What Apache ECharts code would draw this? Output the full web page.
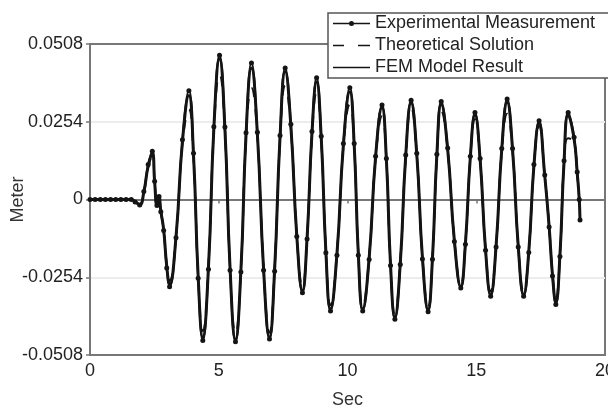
<!DOCTYPE html>
<html>
<head>
<meta charset="utf-8">
<script src="https://cdn.jsdelivr.net/npm/echarts/dist/echarts.min.js"></script>
<style>
  html, body { margin: 0; padding: 0; background: #fff; }
  #chart { width: 608px; height: 409px; }
</style>
</head>
<body>
<div id="chart"></div>
<script>
// time in seconds, shared by the three series
const timeSec = [
  0, 0.2, 0.4, 0.6, 0.8, 1.0, 1.2, 1.4, 1.6, 1.75, 1.93, 2.09, 2.26, 2.42,
  2.51, 2.60, 2.68, 2.75, 2.86, 2.98, 3.09, 3.34, 3.59, 3.84, 4.02, 4.20, 4.38,
  4.60, 4.81, 5.03, 5.24, 5.44, 5.65, 5.86, 6.06, 6.27, 6.50, 6.74, 6.97,
  7.17, 7.38, 7.58, 7.80, 8.03, 8.25, 8.43, 8.62, 8.80, 8.98, 9.16, 9.34,
  9.59, 9.84, 10.09, 10.26, 10.42, 10.59, 10.84, 11.09, 11.34, 11.51, 11.67, 11.84,
  12.05, 12.26, 12.47, 12.69, 12.91, 13.13, 13.30, 13.47, 13.64, 13.89, 14.15, 14.40,
  14.58, 14.77, 14.95, 15.15, 15.36, 15.56, 15.77, 15.99, 16.20, 16.41, 16.63, 16.84,
  17.04, 17.24, 17.44, 17.66, 17.83, 17.96, 18.09, 18.25, 18.41, 18.57,
  18.80, 18.92, 19.00, 19.03
];

const experimental = [
  0, 0, 0, 0, 0, 0, 0, 0, 0, -0.0008, -0.0018, 0.0026, 0.0114, 0.0158,
  0.006, -0.002, 0.001, -0.004, -0.0101, -0.0224, -0.0285, -0.0125, 0.0195, 0.0355, 0.0151, -0.0257, -0.0461,
  -0.0228, 0.0238, 0.0471, 0.0237, -0.0231, -0.0465, -0.0237, 0.0218, 0.0446, 0.0220, -0.0231, -0.0456,
  -0.0234, 0.0209, 0.0430, 0.0246, -0.0121, -0.0305, -0.0129, 0.0222, 0.0398, 0.0207, -0.0174, -0.0364,
  -0.0182, 0.0183, 0.0365, 0.0183, -0.0182, -0.0364, -0.0196, 0.0141, 0.0309, 0.0134, -0.0216, -0.0391,
  -0.0212, 0.0145, 0.0324, 0.0151, -0.0194, -0.0367, -0.0195, 0.0148, 0.0320, 0.0168, -0.0137, -0.0289,
  -0.0146, 0.0141, 0.0284, 0.0134, -0.0166, -0.0316, -0.0155, 0.0167, 0.0328, 0.0167, -0.0155, -0.0316,
  -0.0173, 0.0114, 0.0257, 0.008, -0.009, -0.025, -0.0343, -0.0186, 0.0127, 0.0284,
  0.0203, 0.009, 0.0, -0.0067
];

const theoretical = [
  0, 0, 0, 0, 0, 0, 0, 0, 0, -0.0006, -0.0015, 0.0022, 0.0105, 0.0142,
  0.0055, -0.0018, 0.0008, -0.0035, -0.0095, -0.0210, -0.0265, -0.0118, 0.0180, 0.0295, 0.0135, -0.0245, -0.0430,
  -0.0215, 0.0222, 0.0410, 0.0220, -0.0218, -0.0440, -0.0225, 0.0200, 0.0365, 0.0205, -0.0220, -0.0435,
  -0.0222, 0.0195, 0.0372, 0.0230, -0.0115, -0.0285, -0.0122, 0.0205, 0.0350, 0.0195, -0.0165, -0.0345,
  -0.0172, 0.0170, 0.0312, 0.0172, -0.0172, -0.0348, -0.0185, 0.0132, 0.0272, 0.0125, -0.0205, -0.0372,
  -0.0200, 0.0135, 0.0300, 0.0142, -0.0185, -0.0350, -0.0185, 0.0140, 0.0290, 0.0158, -0.0130, -0.0275,
  -0.0138, 0.0132, 0.0262, 0.0126, -0.0158, -0.0300, -0.0147, 0.0155, 0.0280, 0.0155, -0.0148, -0.0300,
  -0.0165, 0.0106, 0.0240, 0.0074, -0.0085, -0.0238, -0.0320, -0.0176, 0.0118, 0.0200,
  0.0185, 0.0082, 0.0, -0.0060
];

const femModel = [
  0, 0, 0, 0, 0, 0, 0, 0, 0, -0.0007, -0.0017, 0.0024, 0.0110, 0.0150,
  0.0058, -0.0019, 0.0009, -0.0038, -0.0098, -0.0218, -0.0278, -0.0122, 0.0190, 0.0340, 0.0145, -0.0250, -0.0450,
  -0.0222, 0.0232, 0.0460, 0.0230, -0.0226, -0.0458, -0.0232, 0.0212, 0.0430, 0.0214, -0.0226, -0.0450,
  -0.0229, 0.0204, 0.0418, 0.0240, -0.0118, -0.0298, -0.0126, 0.0216, 0.0385, 0.0202, -0.0170, -0.0358,
  -0.0178, 0.0178, 0.0352, 0.0179, -0.0178, -0.0358, -0.0192, 0.0138, 0.0300, 0.0130, -0.0212, -0.0384,
  -0.0208, 0.0141, 0.0315, 0.0148, -0.0190, -0.0360, -0.0191, 0.0145, 0.0310, 0.0164, -0.0134, -0.0284,
  -0.0143, 0.0138, 0.0276, 0.0131, -0.0163, -0.0310, -0.0152, 0.0163, 0.0318, 0.0163, -0.0152, -0.0310,
  -0.0170, 0.0111, 0.0250, 0.0078, -0.0088, -0.0246, -0.0336, -0.0182, 0.0124, 0.0275,
  0.0198, 0.0088, 0.0, -0.0065
];

const seriesNames = ['Experimental Measurement', 'Theoretical Solution', 'FEM Model Result'];
const yTicks = [-0.0508, -0.0254, 0, 0.0254, 0.0508];
const xTicks = [0, 5, 10, 15, 20];

const pairs = vals => timeSec.map((t, i) => [t, vals[i]]);

const font = 'Liberation Sans, Arial, sans-serif';
const ink = '#141414';

// legend icons drawn as paths (bounds kept at 37 x 5 so they are not stretched)
const iconExp = 'path://M0,1.8h37v1.4h-37z M18.5,0a2.5,2.5 0 1,1 0,5a2.5,2.5 0 1,1 0,-5z';
const iconTheo = 'path://M0,0h0.01v0.01h-0.01z M0,1.8h11v1.4h-11z M25,1.8h12v1.4h-12z M36.99,4.99h0.01v0.01h-0.01z';
const iconFem = 'path://M0,0h0.01v0.01h-0.01z M0,1.8h37v1.4h-37z M36.99,4.99h0.01v0.01h-0.01z';

const myChart = echarts.init(document.getElementById('chart'), null, { renderer: 'canvas' });

const option = {
  animation: false,
  backgroundColor: '#fff',
  grid: {
    left: 90, right: 3, top: 44, bottom: 54,
    containLabel: false, outerBoundsMode: 'none',
    show: true, borderColor: '#777', borderWidth: 2, backgroundColor: 'transparent'
  },
  legend: {
    left: 328, top: 13,
    orient: 'vertical',
    selectedMode: false,
    itemWidth: 37, itemHeight: 5, itemGap: 1,
    padding: [0, 60, 0, 5],
    borderColor: '#555', borderWidth: 1.5, backgroundColor: '#fff',
    textStyle: { fontFamily: font, fontSize: 18, color: '#222', lineHeight: 21 },
    data: [
      { name: seriesNames[0], icon: iconExp, itemStyle: { color: ink } },
      { name: seriesNames[1], icon: iconTheo, itemStyle: { color: ink } },
      { name: seriesNames[2], icon: iconFem, itemStyle: { color: ink } }
    ]
  },
  xAxis: {
    type: 'value',
    min: xTicks[0], max: xTicks[xTicks.length - 1], interval: 5,
    name: 'Sec', nameLocation: 'middle', nameGap: 36, nameMoveOverlap: false,
    nameTextStyle: { fontFamily: font, fontSize: 18, color: '#333' },
    axisLine: { show: true, lineStyle: { color: '#777', width: 2 } },
    axisTick: { show: true, length: 4, lineStyle: { color: '#777', width: 1.5 } },
    axisLabel: { margin: 7, fontFamily: font, fontSize: 18, color: '#222' },
    splitLine: { show: false }
  },
  yAxis: {
    type: 'value',
    min: yTicks[0], max: yTicks[yTicks.length - 1], interval: 0.0254,
    name: 'Meter', nameLocation: 'middle', nameGap: 63, nameMoveOverlap: false,
    nameTextStyle: { fontFamily: font, fontSize: 18, color: '#333' },
    axisLine: { show: true, lineStyle: { color: '#777', width: 2 } },
    axisTick: { show: true, length: 4, lineStyle: { color: '#777', width: 1.5 } },
    axisLabel: {
      margin: 7, fontFamily: font, fontSize: 18, color: '#222',
      formatter: v => (Math.abs(v) < 1e-9 ? '0' : v.toFixed(4))
    },
    splitLine: {
      show: true,
      lineStyle: { color: ['#777', '#ececec', '#666', '#ececec', '#777'], width: 2 }
    }
  },
  series: [
    {
      name: seriesNames[0],
      type: 'line',
      data: pairs(experimental),
      smooth: 0.5,
      symbol: 'circle', symbolSize: 5, showAllSymbol: true,
      itemStyle: { color: ink },
      lineStyle: { color: ink, width: 2 },
      z: 4
    },
    {
      name: seriesNames[1],
      type: 'line',
      data: pairs(theoretical),
      smooth: 0.5,
      symbol: 'none',
      itemStyle: { color: ink },
      lineStyle: { color: ink, width: 2, type: [10, 12] },
      z: 3
    },
    {
      name: seriesNames[2],
      type: 'line',
      data: pairs(femModel),
      smooth: 0.5,
      symbol: 'none',
      itemStyle: { color: ink },
      lineStyle: { color: ink, width: 3 },
      z: 3
    }
  ]
};

myChart.setOption(option);
</script>
</body>
</html>
